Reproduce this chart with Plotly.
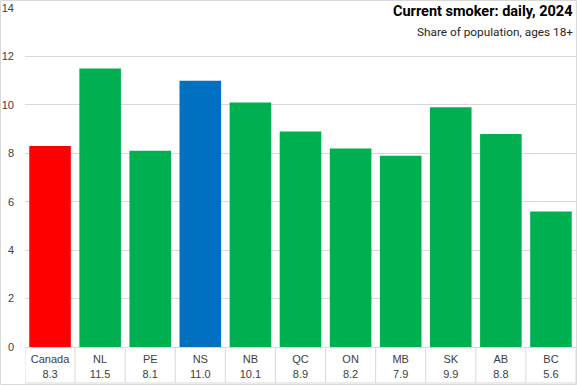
import plotly.graph_objects as go

categories = ["Canada", "NL", "PE", "NS", "NB", "QC", "ON", "MB", "SK", "AB", "BC"]
values = [8.3, 11.5, 8.1, 11.0, 10.1, 8.9, 8.2, 7.9, 9.9, 8.8, 5.6]
colors = ["#FF0000", "#00B050", "#00B050", "#0070C0", "#00B050", "#00B050",
          "#00B050", "#00B050", "#00B050", "#00B050", "#00B050"]
y_ticks = [0, 2, 4, 6, 8, 10, 12, 14]
title = "Current smoker: daily, 2024"
subtitle = "Share of population, ages 18+"

W, H = 577, 385
ML, MR, MT, MB = 25, 1, 8, 38
plot_h = H - MT - MB

ticktext = [f"{c}<br>{v:.1f}" for c, v in zip(categories, values)]

fig = go.Figure(go.Bar(
    x=list(range(len(categories))), y=values,
    marker=dict(color=colors, line=dict(width=0)),
    hoverinfo="skip",
))

shapes = []
# table dividers below the axis
bottom = -(MB - 2) / plot_h
for i in range(len(categories) + 1):
    shapes.append(dict(type="line", xref="x", yref="paper",
                       x0=i - 0.5, x1=i - 0.5, y0=0, y1=bottom,
                       line=dict(color="#D9D9D9", width=1)))
shapes.append(dict(type="line", xref="paper", yref="paper",
                   x0=0, x1=1, y0=bottom, y1=bottom,
                   line=dict(color="#D9D9D9", width=1)))
# outer chart border
pw = W - ML - MR
shapes.append(dict(type="rect", xref="paper", yref="paper",
                   x0=-(ML - 0.5) / pw, x1=1 + (MR - 0.5) / pw,
                   y0=-(MB - 0.5) / plot_h, y1=1 + (MT - 0.5) / plot_h,
                   line=dict(color="#D9D9D9", width=1)))

fig.update_layout(
    width=W, height=H,
    margin=dict(l=ML, r=MR, t=MT, b=MB, pad=0),
    plot_bgcolor="white", paper_bgcolor="white",
    bargap=0.17,
    showlegend=False,
    shapes=shapes,
    xaxis=dict(
        tickmode="array", tickvals=list(range(len(categories))), ticktext=ticktext,
        range=[-0.5, len(categories) - 0.5],
        showgrid=False, zeroline=False,
        showline=True, linecolor="#D9D9D9", linewidth=1,
        ticks="", tickfont=dict(family="Liberation Sans", size=11, color="#404040"),
        ticklabelstandoff=2,
    ),
    yaxis=dict(
        range=[0, 14], tickvals=y_ticks,
        showgrid=True, gridcolor="#D9D9D9", gridwidth=1,
        zeroline=False, showline=False, ticks="",
        tickfont=dict(family="Liberation Sans", size=11, color="#404040"),
        ticklabelstandoff=10,
    ),
    annotations=[
        dict(text=f"<b>{title}</b>", xref="paper", yref="paper",
             x=(575 - ML) / pw, y=1 + (MT - 1) / plot_h, xanchor="right", yanchor="top",
             showarrow=False, font=dict(family="Roboto", size=14.5, color="#000000")),
        dict(text=subtitle, xref="paper", yref="paper",
             x=(575 - ML) / pw, y=1 - (23 - MT) / plot_h, xanchor="right", yanchor="top",
             showarrow=False, font=dict(family="Roboto", size=11.8, color="#262626")),
    ],
)

fig.write_html("out.html", config={"displayModeBar": False},
               post_script="document.body.style.margin='0';document.body.style.overflow='hidden';")
